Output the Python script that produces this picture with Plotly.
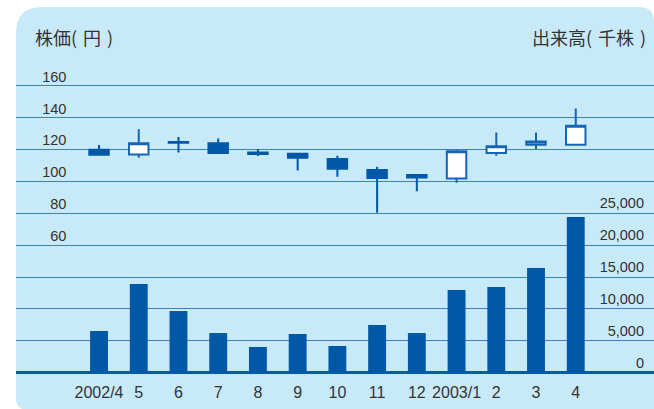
import plotly.graph_objects as go

# ---- data ----
months = ["2002/4", "5", "6", "7", "8", "9", "10", "11", "12", "2003/1", "2", "3", "4"]
price_open = [119.8, 116.9, 124.8, 124.0, 118.2, 117.3, 114.0, 107.1, 104.1, 101.9, 117.9, 123.0, 123.0]
price_high = [122.8, 132.8, 127.8, 127.0, 120.3, 117.6, 116.1, 109.2, 104.1, 119.8, 130.7, 130.7, 145.8]
price_low = [116.7, 114.8, 118.2, 117.9, 116.0, 106.9, 102.9, 80.3, 93.9, 99.1, 116.1, 120.3, 123.0]
price_close = [116.7, 124.0, 124.2, 117.9, 117.2, 114.8, 107.9, 102.2, 102.5, 119.0, 122.1, 125.1, 134.9]
volume = [6540, 13910, 9670, 6220, 4030, 6070, 4190, 7480, 6220, 12970, 13440, 16420, 24410]

price_ticks = [60, 80, 100, 120, 140, 160]
price_labels = ["60", "80", "100", "120", "140", "160"]
vol_ticks = [0, 5000, 10000, 15000, 20000, 25000, 30000, 35000, 40000, 45000]
vol_labels = ["0", "5,000", "10,000", "15,000", "20,000", "25,000", "", "", "", ""]

left_title = "株価(\u2004円\u2004)"
right_title = "出来高(\u2004千株\u2004)"

# ---- style ----
BLUE = "#0058a6"
GRID = "#3f80c2"
BG = "#c8e9f8"
TXT = "#333333"
NUM_FONT = "Liberation Sans, Arial, sans-serif"
CJK_FONT = "Noto Sans CJK JP, sans-serif"

W, H = 654, 409
ML, MR, MT, MB = 16, 0, 80, 33
pw, ph = W - ML - MR, H - MT - MB

def px_x(px):
    return (px - ML) / pw

def px_y(py):
    return (H - MB - py) / ph

fig = go.Figure()

fig.add_trace(go.Bar(
    x=months, y=volume, yaxis="y", marker=dict(color=BLUE, line=dict(width=0)),
    showlegend=False, hoverinfo="skip",
))

fig.add_trace(go.Candlestick(
    x=months, open=price_open, high=price_high, low=price_low, close=price_close,
    yaxis="y2",
    increasing=dict(line=dict(color="#1565b5", width=2), fillcolor="white"),
    decreasing=dict(line=dict(color=BLUE, width=2), fillcolor=BLUE),
    whiskerwidth=0, showlegend=False, hoverinfo="skip",
))

# rounded background panel
x0, x1 = px_x(16), px_x(654)
y_top, y_bot = px_y(7), px_y(410)
rtl_x, rtl_y = 26 / pw, 26 / ph
rtr_x, rtr_y = 15 / pw, 15 / ph
rbl_x, rbl_y = 12 / pw, 12 / ph
path = (
    f"M {x0},{y_top - rtl_y} Q {x0},{y_top} {x0 + rtl_x},{y_top} "
    f"L {x1 - rtr_x},{y_top} Q {x1},{y_top} {x1},{y_top - rtr_y} "
    f"L {x1},{y_bot} L {x0 + rbl_x},{y_bot} Q {x0},{y_bot} {x0},{y_bot + rbl_y} Z"
)
fig.add_shape(type="path", path=path, xref="paper", yref="paper",
              fillcolor=BG, line=dict(width=0), layer="below")

fig.add_annotation(text=left_title, xref="paper", yref="paper", x=px_x(33), y=px_y(37),
                   xanchor="left", yanchor="middle", showarrow=False,
                   font=dict(family=CJK_FONT, size=18, color=TXT))
fig.add_annotation(text=right_title, xref="paper", yref="paper", x=px_x(648), y=px_y(37),
                   xanchor="right", yanchor="middle", showarrow=False,
                   font=dict(family=CJK_FONT, size=18, color=TXT))

vpp = 5000 / 31.88  # volume per pixel
vmin = -(376 - 372.7) * vpp
vmax = (372.7 - 80) * vpp

fig.update_layout(
    width=W, height=H,
    margin=dict(l=ML, r=MR, t=MT, b=MB, pad=0),
    paper_bgcolor="white", plot_bgcolor="rgba(0,0,0,0)",
    bargap=0.55, boxgap=0.3, boxgroupgap=0.3,
    xaxis=dict(type="category", range=[-2.09, 13.97], showgrid=False, zeroline=False,
               showline=False, ticks="", rangeslider=dict(visible=False),
               ticklabelstandoff=5,
               tickfont=dict(family=NUM_FONT, size=16, color=TXT)),
    yaxis=dict(side="right", range=[vmin, vmax], tickvals=vol_ticks, ticktext=vol_labels,
               showgrid=True, gridcolor=GRID, gridwidth=1.3,
               zeroline=True, zerolinecolor="#0a5aa8", zerolinewidth=3,
               showline=False, ticks="", ticklabelposition="inside top",
               ticklabelstandoff=7,
               tickfont=dict(family=NUM_FONT, size=14.5, color=TXT)),
    yaxis2=dict(overlaying="y", anchor="free", position=0.079, side="left",
                range=[-20 + vmin / 250, -20 + vmax / 250],
                tickvals=price_ticks, ticktext=price_labels,
                showgrid=False, zeroline=False, showline=False, ticks="",
                ticklabelposition="outside top", ticklabelshift=1,
                tickfont=dict(family=NUM_FONT, size=14.5, color=TXT)),
)

fig.write_html("out.html", config={"displayModeBar": False},
               post_script="document.body.style.margin='0';")
